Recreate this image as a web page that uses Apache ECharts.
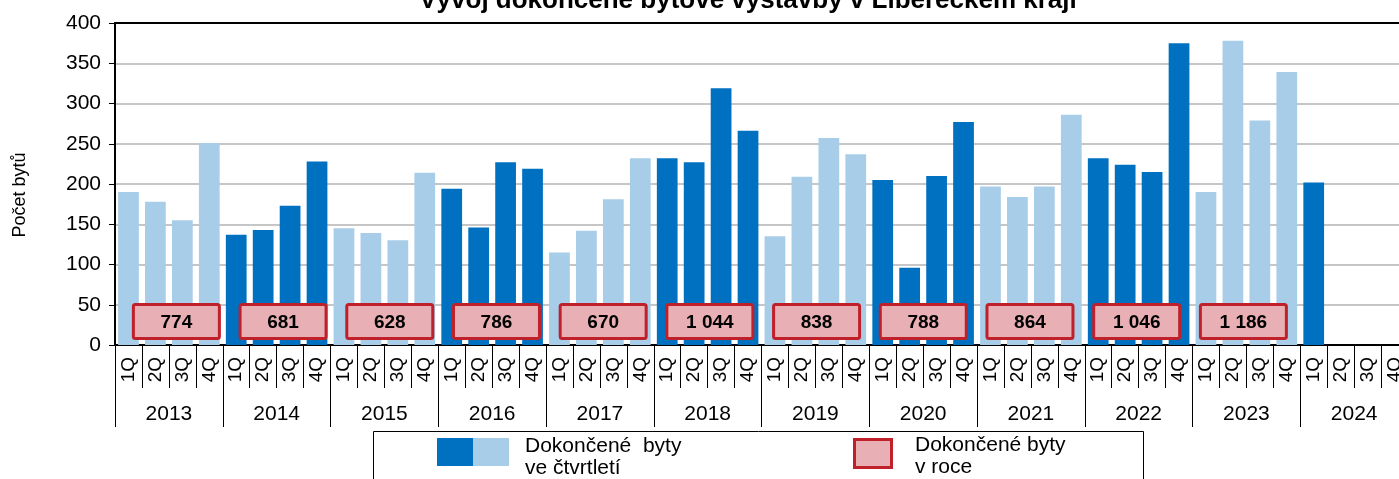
<!DOCTYPE html>
<html>
<head>
<meta charset="utf-8">
<script src="https://cdn.jsdelivr.net/npm/echarts@6/dist/echarts.min.js"></script>
<style>
html,body{margin:0;padding:0;background:#fff;overflow:hidden;width:1399px;height:479px;}
#chart{width:1430px;height:479px;}
</style>
</head>
<body>
<div id="chart"></div>
<script>
const years = ['2013','2014','2015','2016','2017','2018','2019','2020','2021','2022','2023','2024'];
const quarterNames = ['1Q','2Q','3Q','4Q'];
const quarterly = [
  190, 178, 155, 251,
  137, 143, 173, 228,
  145, 139, 130, 214,
  194, 146, 227, 219,
  115, 142, 181, 232,
  232, 227, 319, 266,
  135, 209, 257, 237,
  205, 96, 210, 277,
  197, 184, 197, 286,
  232, 224, 215, 375,
  190, 378, 279, 339,
  202, null, null, null
];
const annual = [774, 681, 628, 786, 670, 1044, 838, 788, 864, 1046, 1186];
const yTicks = {min: 0, max: 400, interval: 50};

const FONT = '"Liberation Sans", Arial, sans-serif';
const DARK = '#0070c0';
const LIGHT = '#a7cde9';
const PINK = '#e8b0b4';
const RED = '#c0202a';

const categories = [];
years.forEach(y => quarterNames.forEach(q => categories.push(y + ' ' + q)));

function fmt(n) {
  return String(n).replace(/\B(?=(\d{3})+(?!\d))/g, ' ');
}

const chart = echarts.init(document.getElementById('chart'), null, {renderer: 'canvas', width: 1430, height: 479});

const option = {
  animation: false,
  backgroundColor: '#fff',
  textStyle: {fontFamily: FONT},
  grid: {
    left: 115, top: 23, width: 1293, height: 322, show: false
  },
  xAxis: [
    {
      type: 'category',
      data: categories,
      position: 'bottom',
      axisLine: {show: true, lineStyle: {color: '#000', width: 2}},
      axisTick: {show: true, interval: 0, length: 43, lineStyle: {color: '#000', width: 1}},
      axisLabel: {
        interval: 0, rotate: 90, fontSize: 19, color: '#000', margin: 12, fontFamily: FONT,
        formatter: v => v.split(' ')[1]
      },
      splitLine: {show: false}
    },
    {
      type: 'category',
      data: years,
      position: 'bottom',
      axisLine: {show: false},
      axisTick: {show: true, interval: 0, length: 82, lineStyle: {color: '#000', width: 1}},
      axisLabel: {interval: 0, fontSize: 21, color: '#000', margin: 59, fontFamily: FONT},
      splitLine: {show: false}
    },
    {
      type: 'category',
      data: years,
      position: 'top',
      axisLine: {show: true, lineStyle: {color: '#000', width: 2}},
      axisTick: {show: false},
      axisLabel: {show: false},
      splitLine: {show: false}
    }
  ],
  yAxis: {
    type: 'value',
    min: yTicks.min, max: yTicks.max, interval: yTicks.interval,
    name: 'Počet bytů',
    nameLocation: 'middle',
    nameRotate: 90,
    nameGap: 86,
    nameTextStyle: {fontSize: 18, color: '#000', fontFamily: FONT, padding: [0, 22, 0, 0]},
    axisLine: {show: true, lineStyle: {color: '#000', width: 2}},
    axisTick: {show: true, length: 6, lineStyle: {color: '#000', width: 1}},
    axisLabel: {fontSize: 21, color: '#000', margin: 14, fontFamily: FONT},
    splitLine: {show: true, lineStyle: {color: '#c6c6c6', width: 2}}
  },
  series: [
    {
      type: 'bar',
      xAxisIndex: 0,
      yAxisIndex: 0,
      barCategoryGap: '23%',
      data: quarterly.map((v, i) => ({
        value: v,
        itemStyle: {color: Math.floor(i / 4) % 2 === 0 ? LIGHT : DARK}
      }))
    },
    {
      type: 'custom',
      xAxisIndex: 1,
      yAxisIndex: 0,
      z: 5,
      data: annual.map((v, i) => [i, v]),
      renderItem: function (params, api) {
        const i = api.value(0);
        const p = api.coord([i, 0]);
        const cx = p[0] + 7.5 - 1.05 * i;
        const w = 86, h = 34;
        const top = p[1] - 40.5;
        return {
          type: 'group',
          children: [
            {
              type: 'rect',
              shape: {x: cx - w / 2, y: top, width: w, height: h, r: 2},
              style: {fill: PINK, stroke: RED, lineWidth: 3}
            },
            {
              type: 'text',
              style: {
                text: fmt(api.value(1)),
                x: cx, y: top + h / 2 + 1,
                align: 'center', verticalAlign: 'middle',
                font: 'bold 19px ' + FONT,
                fill: '#000'
              }
            }
          ]
        };
      }
    }
  ],
  graphic: [
    {
      type: 'text',
      style: {
        text: 'Vývoj dokončené bytové výstavby v Libereckém kraji',
        x: 748, y: 14,
        align: 'center', verticalAlign: 'bottom',
        font: 'bold 26px ' + FONT,
        fill: '#000'
      }
    },
    {
      type: 'rect',
      shape: {x: 373.5, y: 431.5, width: 770, height: 60},
      style: {fill: '#fff', stroke: '#000', lineWidth: 1}
    },
    {
      type: 'rect',
      shape: {x: 437, y: 438, width: 36, height: 28},
      style: {fill: DARK}
    },
    {
      type: 'rect',
      shape: {x: 473, y: 438, width: 36, height: 28},
      style: {fill: LIGHT}
    },
    {
      type: 'text',
      style: {
        text: 'Dokončené  byty\nve čtvrtletí',
        x: 525, y: 435,
        font: '21px ' + FONT, lineHeight: 22,
        fill: '#000', align: 'left', verticalAlign: 'top'
      }
    },
    {
      type: 'rect',
      shape: {x: 854.5, y: 439.5, width: 37, height: 28},
      style: {fill: PINK, stroke: RED, lineWidth: 3}
    },
    {
      type: 'text',
      style: {
        text: 'Dokončené byty\nv roce',
        x: 915, y: 434,
        font: '21px ' + FONT, lineHeight: 22,
        fill: '#000', align: 'left', verticalAlign: 'top'
      }
    }
  ]
};

chart.setOption(option);
</script>
</body>
</html>
